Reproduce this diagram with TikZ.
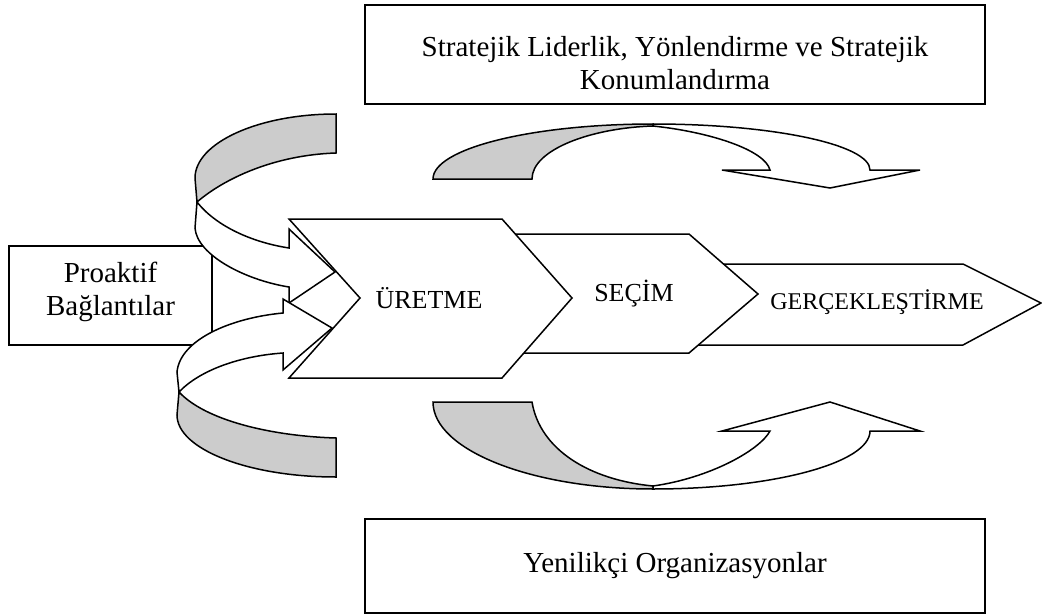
\documentclass[tikz,border=0pt]{standalone}
\usepackage{fontspec}
\setmainfont{Liberation Serif}
\definecolor{bandgray}{RGB}{204,204,204}
\tikzset{
  outl/.style={draw=black, line width=1.5pt, line join=miter},
  wpart/.style={outl, fill=white},
  gpart/.style={outl, fill=bandgray},
  boxn/.style={draw=black, line width=1.8pt, fill=white, inner sep=0pt},
  btxt/.style={font=\fontsize{29}{33.5}\selectfont, inner sep=0pt, align=center},
  txt/.style={font=\fontsize{26}{30}\selectfont, inner sep=0pt, align=center},
  stxt/.style={font=\fontsize{24}{28}\selectfont, inner sep=0pt, align=center}
}
\begin{document}
\begin{tikzpicture}[x=1pt,y=-1pt]
\useasboundingbox (0,0) rectangle (1042,616);
\fill[white] (0,0) rectangle (1042,616);

% Proaktif box
\node[boxn, minimum width=203pt, minimum height=99pt] (pro) at (110.5,295.5) {};
\node[btxt] (protxt) at (110.5,292) {Proaktif\\Bağlantılar};

% chevrons (back to front)
\draw[wpart] (690,264) -- (963,264) -- (1041,303) -- (963,345) -- (690,345) -- (730,304) -- cycle;
\draw[wpart] (500,234) -- (689,234) -- (758,294) -- (689,353) -- (500,353) -- (550,294) -- cycle;
\draw[wpart] (289,219) -- (502,219) -- (572,298) -- (502,378) -- (289,378) -- (360,298) -- cycle;
\node[txt] (uretme) at (429,298) {ÜRETME};
\node[txt] (secim) at (634,294) {SEÇİM};
\node[stxt] (gerc) at (877,302) {GERÇEKLEŞTİRME};

% upper left curved arrow
\draw[gpart] (336,114) .. controls (258,114) and (195,143) .. (195,178) -- (197,202)
  .. controls (225,178) and (275,155) .. (336,153) -- cycle;
\draw[wpart] (197,202) .. controls (215,225) and (250,242) .. (289,248) -- (289,229) -- (335,272)
  -- (289,303) -- (289,287) .. controls (245,280) and (197,255) .. (195,228) -- cycle;

% lower left curved arrow
\draw[gpart] (179,392) .. controls (205,420) and (270,436) .. (336,438) -- (336,477)
  .. controls (248,477) and (177,449) .. (177,415) -- cycle;
\draw[wpart] (283,313) .. controls (230,318) and (180,340) .. (177,372) -- (179,392)
  .. controls (200,370) and (240,356) .. (283,353) -- (283,370) -- (332,328) -- (283,299) -- cycle;

% top right curved arrow
\draw[gpart] (433,179) -- (532,179) .. controls (532,150) and (590,128) .. (653,126) -- (653,124)
  .. controls (531.6,124) and (433,148.6) .. (433,179) -- cycle;
\draw[wpart] (653,126) .. controls (710,132) and (765,150) .. (770,170) -- (722,170) -- (830,188)
  -- (920,170) -- (870,170) .. controls (870,144.6) and (772.8,124) .. (653,124) -- cycle;

% bottom right curved arrow
\draw[gpart] (433,402) -- (532,402) .. controls (540,450) and (590,480) .. (653,486) -- (653,489)
  .. controls (531.6,489) and (433,450) .. (433,402) -- cycle;
\draw[wpart] (653,486) .. controls (710,478) and (760,450) .. (770,431) -- (722,431) -- (830,402)
  -- (920,431) -- (870,431) .. controls (870,463) and (772.8,489) .. (653,489) -- cycle;

% top and bottom boxes
\node[boxn, minimum width=620pt, minimum height=99pt] (strat) at (675,54.5) {};
\node[btxt] (strattxt) at (675,63) {Stratejik Liderlik, Yönlendirme ve Stratejik\\Konumlandırma};
\node[boxn, minimum width=620pt, minimum height=94pt] (yen) at (675,566) {};
\node[btxt] (yentxt) at (675,566) {Yenilikçi Organizasyonlar};
\end{tikzpicture}
\end{document}
